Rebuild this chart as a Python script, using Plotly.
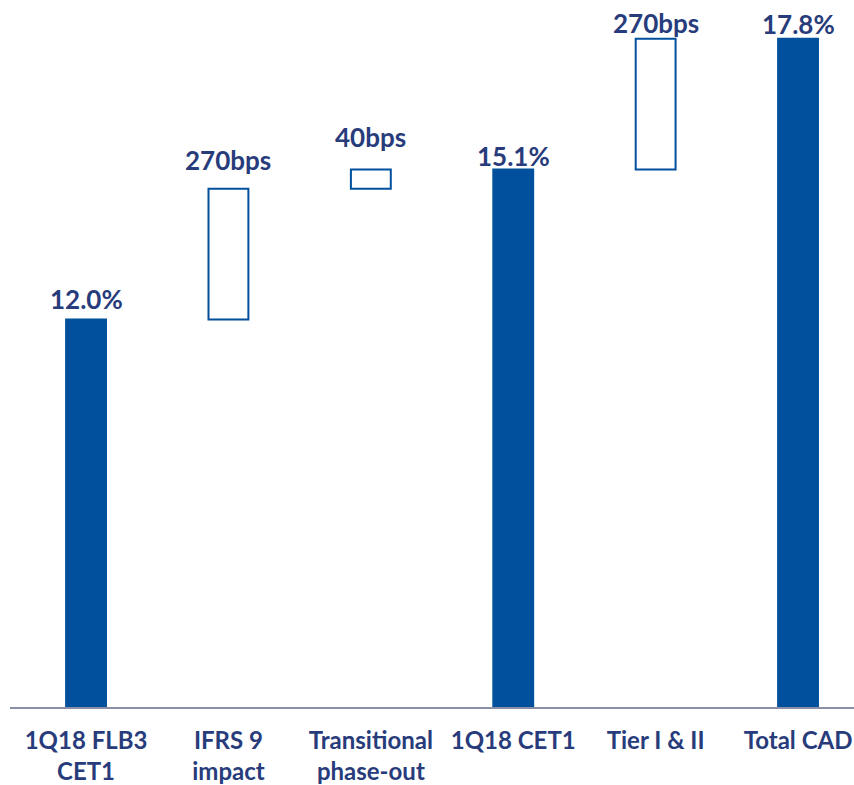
import plotly.graph_objects as go

# Capital walk: FLB3 CET1 -> CET1 -> Total CAD (%)
categories = ["1Q18 FLB3<br>CET1", "IFRS 9<br>impact", "Transitional<br>phase-out",
              "1Q18 CET1", "Tier I & II", "Total CAD"]
kinds = ["total", "delta", "delta", "total", "delta", "total"]
values = [12.0, 2.7, 0.4, 15.1, 2.7, 17.8]
labels = ["12.0%", "270bps", "40bps", "15.1%", "270bps", "17.8%"]

BLUE = "#00509E"
NAVY = "#283C7C"
FONT = "Lato, Calibri, sans-serif"
AXIS_MIN = 4.0

# floating bars start where the running total left off
bases, tops = [], []
running = 0.0
for k, v in zip(kinds, values):
    if k == "total":
        bases.append(AXIS_MIN)
        tops.append(v)
        running = v
    else:
        bases.append(running)
        running = round(running + v, 2)
        tops.append(running)

xs = list(range(len(categories)))
fills = [BLUE if k == "total" else "white" for k in kinds]

fig = go.Figure()
fig.add_trace(go.Bar(
    x=xs,
    y=[t - b for t, b in zip(tops, bases)],
    base=bases,
    width=0.28,
    marker=dict(color=fills, line=dict(color=BLUE, width=2)),
    hoverinfo="skip",
))

# value labels above each bar (pixel gap above the bar top)
label_gap = [3, 11, 14, -5, -2, -3]
for x, t, lab, g in zip(xs, tops, labels, label_gap):
    fig.add_annotation(x=x, y=t, text=f"<b>{lab}</b>", showarrow=False,
                       yanchor="bottom", yshift=g,
                       font=dict(family=FONT, size=26, color=NAVY))

fig.update_layout(
    width=854, height=785,
    margin=dict(l=10, r=0, t=0, b=78),
    paper_bgcolor="white", plot_bgcolor="white",
    showlegend=False,
    xaxis=dict(
        range=[-0.534, 5.393],
        tickmode="array", tickvals=xs,
        ticktext=[f"<b>{c}</b>" for c in categories],
        tickfont=dict(family=FONT, size=24, color=NAVY),
        ticklabelstandoff=11,
        ticklabeloverflow="allow",
        showline=True, linecolor="#8A8FA8", linewidth=2,
        showgrid=False, zeroline=False, ticks="", automargin=False,
    ),
    yaxis=dict(range=[AXIS_MIN, 18.6], visible=False, showgrid=False,
               zeroline=False, automargin=False),
)

fig.write_html("out.html")
